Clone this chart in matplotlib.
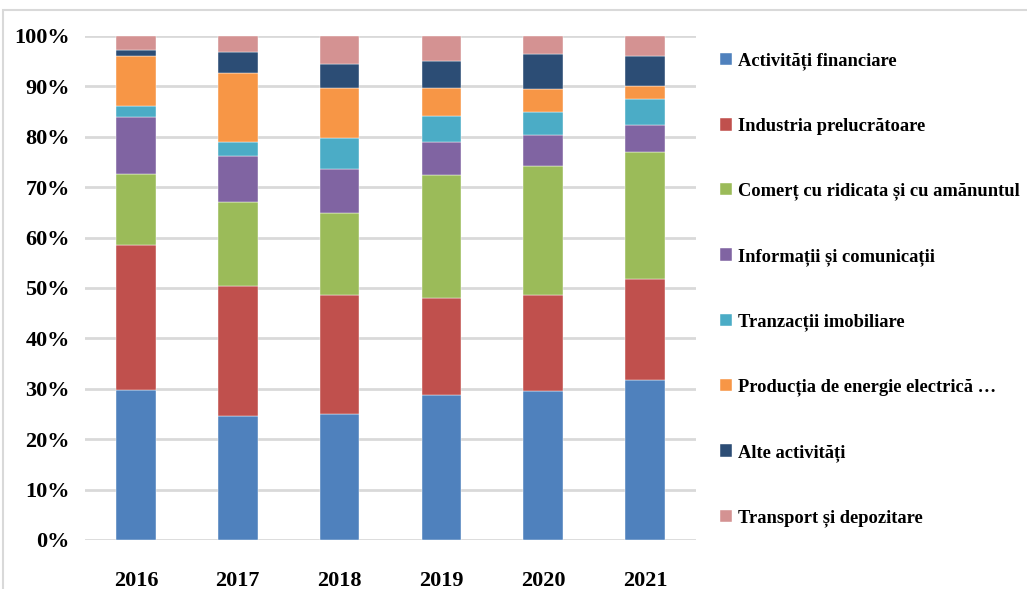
import matplotlib.pyplot as plt
import matplotlib.patches as mpatches
import numpy as np

years = ["2016", "2017", "2018", "2019", "2020", "2021"]

categories = [
    "Activități financiare",
    "Industria prelucrătoare",
    "Comerț cu ridicata și cu amănuntul",
    "Informații și comunicații",
    "Tranzacții imobiliare",
    "Producția de energie electrică …",
    "Alte activități",
    "Transport și depozitare",
]

# shares in % per year
financiare = [29.8, 24.7, 25.0, 28.7, 29.5, 31.7]
industria = [28.7, 25.6, 23.6, 19.4, 19.1, 20.0]
comert = [14.2, 16.8, 16.3, 24.4, 25.6, 25.3]
informatii = [11.3, 9.1, 8.7, 6.5, 6.2, 5.3]
imobiliare = [2.2, 2.8, 6.2, 5.1, 4.5, 5.1]
energie = [9.9, 13.7, 9.8, 5.5, 4.5, 2.7]
alte = [1.1, 4.2, 4.8, 5.4, 7.0, 6.0]
transport = [2.8, 3.1, 5.6, 5.0, 3.6, 3.9]

series = [financiare, industria, comert, informatii, imobiliare, energie, alte, transport]
colors = ["#4F81BD", "#C0504D", "#9BBB59", "#8064A2", "#4BACC6", "#F79646", "#2C4D75", "#D49292"]

plt.rcParams['font.family'] = ['Liberation Serif', 'DejaVu Serif']
plt.rcParams['font.weight'] = 'bold'

fig = plt.figure(figsize=(10.27, 5.89), dpi=100)
ax = fig.add_axes([0.0828, 0.0832, 0.5949, 0.8557])

# light frame around the whole picture
fig.patches.append(mpatches.Rectangle((0.003, -0.01), 1.0, 0.993, transform=fig.transFigure,
                                      fill=False, edgecolor="#d9d9d9", linewidth=1.5))

x = np.arange(len(years))
bottom = np.zeros(len(years))
for vals, col, lab in zip(series, colors, categories):
    v = np.array(vals)
    v_norm = v / np.sum(series, axis=0) * 100
    ax.bar(x, v_norm, 0.39, bottom=bottom, color=col, label=lab, zorder=3,
           edgecolor="white", linewidth=0.3)
    bottom += v_norm

ax.set_xlim(-0.5, len(years) - 0.5)
ax.set_ylim(0, 100)
ax.set_yticks(np.arange(0, 101, 10))
ax.set_yticklabels([f"{t}%" for t in range(0, 101, 10)])
ax.set_xticks(x)
ax.set_xticklabels(years)
ax.tick_params(axis='y', length=0, pad=11, labelsize=16)
ax.tick_params(axis='x', length=0, pad=22, labelsize=16)
ax.grid(axis='y', color="#d9d9d9", linewidth=2, zorder=0)
ax.set_axisbelow(True)
for s in ax.spines.values():
    s.set_visible(False)

ax.legend(loc='upper left', bbox_to_anchor=(0.685, 0.939), bbox_transform=fig.transFigure,
          frameon=False, fontsize=13.3, handlelength=0.65, handleheight=0.65,
          handletextpad=0.3, labelspacing=2.58)

fig.savefig("out.png", dpi=100)
